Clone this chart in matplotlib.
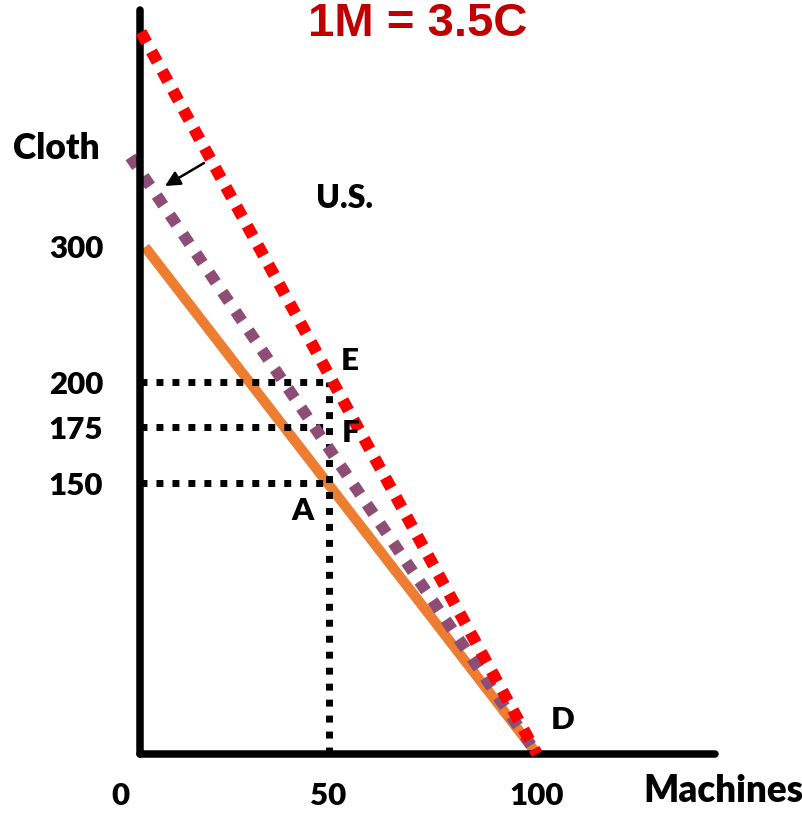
import numpy as np
import matplotlib
matplotlib.use('Agg')
import matplotlib.pyplot as plt

# values (machines on x, cloth on y)
x_ticks = [0, 50, 100]
y_ticks = [300, 200, 175, 150]

orange_x = [6, 100]      # U.S. production possibilities
orange_y = [300, 0]
purple_x = [2.5, 100]    # trade line after the shift
purple_y = [341, 0]
red_x = [5, 100]         # trade line before the shift
red_y = [380, 0]

guide_x = 50
guide_y = [200, 175, 150]

point_names = ['E', 'F', 'A', 'D']
point_x = [50, 50, 50, 100]
point_y = [200, 175, 150, 0]

# the slide's cloth axis is not evenly spaced, so map values to drawn height
cloth_ref = [-50, 0, 150, 175, 200, 300, 341, 380, 420]
drawn_h = [-90, 0, 271, 327, 372, 507, 597, 722, 830]


def fwd(v):
    return np.interp(v, cloth_ref, drawn_h)


def inv(h):
    return np.interp(h, drawn_h, cloth_ref)


plt.rcParams['font.family'] = ['Lato', 'DejaVu Sans']
plt.rcParams['font.weight'] = 'heavy'

fig = plt.figure(figsize=(8.02, 8.13), dpi=100)
ax = fig.add_axes([0, 0, 1, 1])
ax.set_yscale('function', functions=(fwd, inv))
ax.set_xlim(-120 / 4.17, 682 / 4.17)
ax.set_ylim(inv(-59), inv(754))

origin_x = 4.8

# axes lines
for side in ['top', 'right']:
    ax.spines[side].set_visible(False)
ax.spines['left'].set_position(('data', origin_x))
ax.spines['left'].set_bounds(0, 388)
ax.spines['bottom'].set_position(('data', 0))
ax.spines['bottom'].set_bounds(origin_x, 142.7)
for side in ['left', 'bottom']:
    ax.spines[side].set_linewidth(5.4)
    ax.spines[side].set_capstyle('round')

ax.set_xticks(x_ticks)
ax.set_xticklabels([str(v) for v in x_ticks])
ax.set_yticks(y_ticks)
ax.set_yticklabels([str(v) for v in y_ticks])
ax.minorticks_off()
ax.tick_params(axis='x', length=0, pad=20, labelsize=22.5)
ax.tick_params(axis='y', length=0, pad=26.5, labelsize=22.5)

# dotted guides
for gy in guide_y:
    ax.plot([origin_x, guide_x], [gy, gy], color='black', lw=5,
            linestyle=(0, (1, 1.3)), zorder=2)
ax.plot([guide_x, guide_x], [0, max(guide_y)], color='black', lw=5,
        linestyle=(0, (1, 1.3)), zorder=2)

ax.plot(orange_x, orange_y, color='#ED7D31', lw=7.3, solid_capstyle='butt', zorder=1.5)
ax.plot(purple_x, purple_y, color='#8E4D74', lw=8.4,
        linestyle=(0, (1, 1.0)), zorder=2.2)
ax.plot(red_x, red_y, color='#FF0000', lw=8.6,
        linestyle=(0, (1, 0.85)), zorder=3)

offsets = {'E': (15, 15), 'F': (16, -4.5), 'A': (-18.7, -20), 'D': (18.4, 24.5)}
for name, px, py in zip(point_names, point_x, point_y):
    ax.annotate(name, (px, py), xytext=offsets[name], textcoords='offset points',
                ha='center', va='center', fontsize=22.5)

ax.annotate('', xy=(165 / 802, 1 - 186 / 813), xytext=(204 / 802, 1 - 163 / 813),
            xycoords='axes fraction', textcoords='axes fraction',
            arrowprops=dict(arrowstyle='-|>,head_length=0.6,head_width=0.3',
                            color='black', lw=1.8, shrinkA=0, shrinkB=0,
                            mutation_scale=15))

ax.text(56 / 802, 1 - 159 / 813, 'Cloth', transform=ax.transAxes, ha='center',
        va='baseline', fontsize=25.5)
ax.text(344.5 / 802, 1 - 208 / 813, 'U.S.', transform=ax.transAxes, ha='center',
        va='baseline', fontsize=23)
ax.text(643 / 802, 1 - 801.7 / 813, 'Machines', transform=ax.transAxes, ha='left',
        va='baseline', fontsize=26.5)
ax.text(418 / 802, 1 - 36 / 813, '1M = 3.5C', transform=ax.transAxes, ha='center',
        va='baseline', fontsize=34, fontweight='bold', color='#C00000',
        family=['Liberation Sans', 'DejaVu Sans'])

fig.savefig('out.png', dpi=100)
